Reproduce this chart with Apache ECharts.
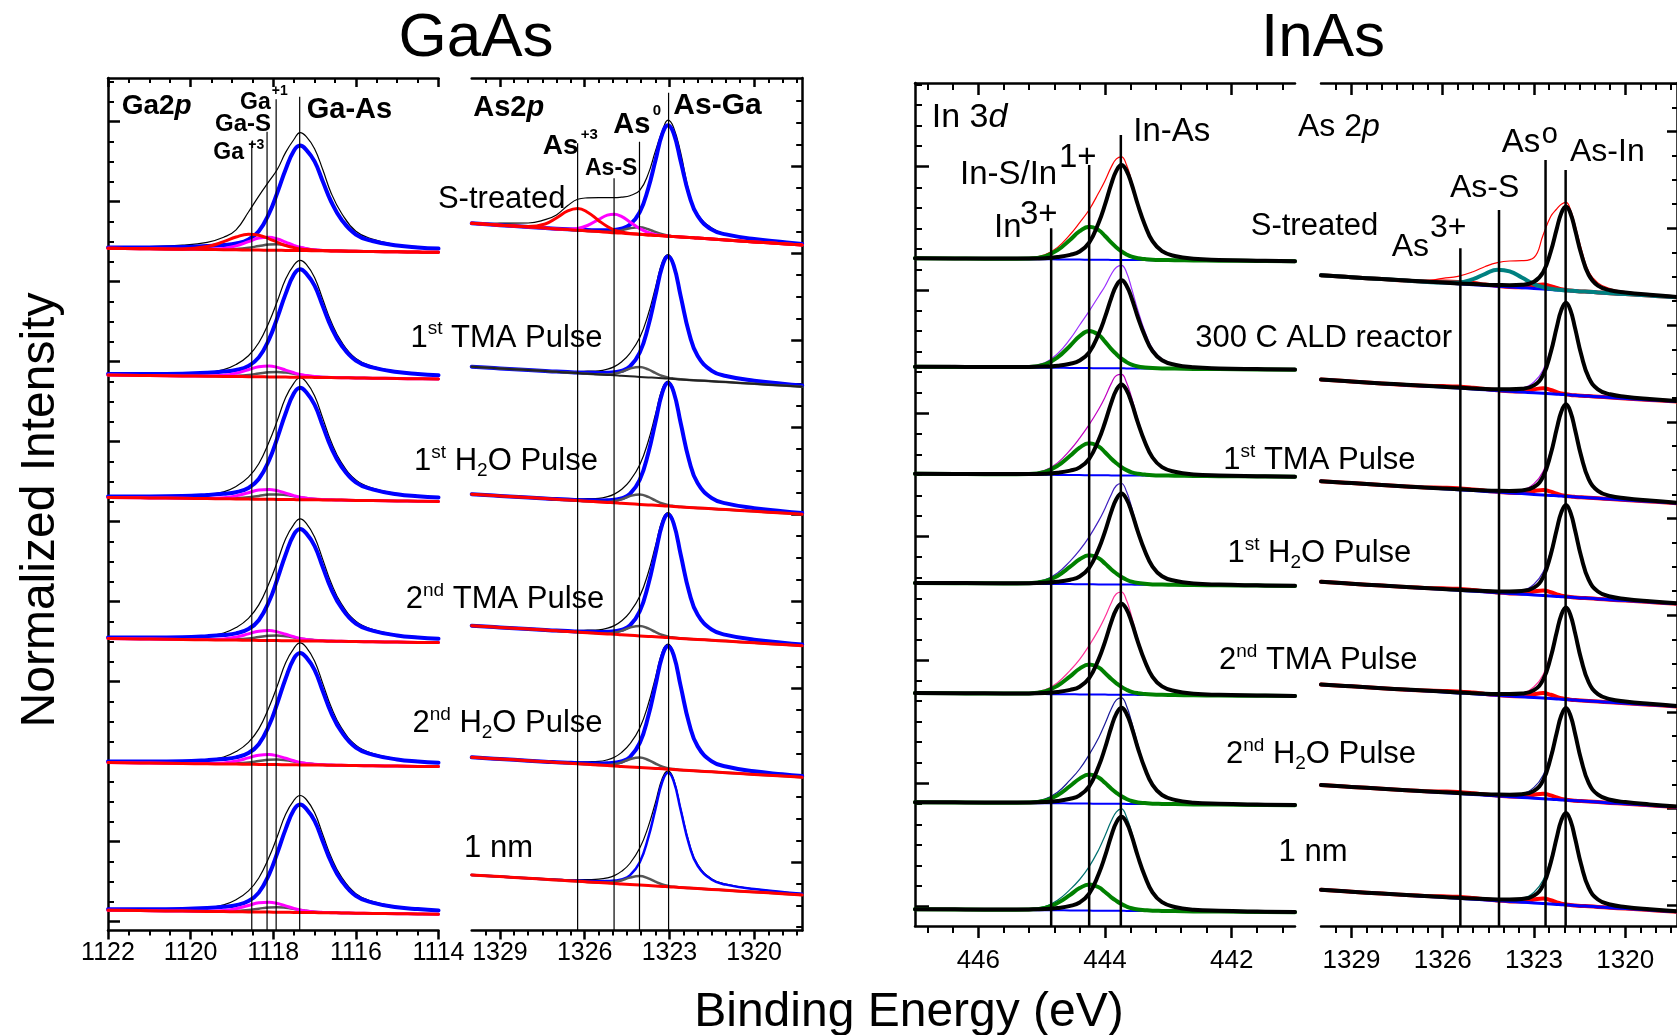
<!DOCTYPE html>
<html><head><meta charset="utf-8">
<script src="https://cdn.jsdelivr.net/npm/echarts@6/dist/echarts.min.js"></script>
<style>html,body{margin:0;padding:0;background:#fff}#c{width:1677px;height:1035px}</style>
</head><body><div id="c"></div>
<script>
const FONT = "'Liberation Sans', Arial, Helvetica, sans-serif";

// ================= GaAs : Ga 2p =================
const ga2pE = [1122,1121,1120.2,1119.6,1119.2,1118.9,1118.6,1118.35,1118.1,1117.9,1117.7,1117.5,1117.35,1117.2,1117.0,1116.8,1116.6,1116.35,1116.0,1115.6,1115.0,1114.5,1114];
const ga2pBg = [0,-0.05,-0.09,-0.12,-0.14,-0.15,-0.17,-0.18,-0.19,-0.2,-0.21,-0.22,-0.23,-0.23,-0.24,-0.25,-0.26,-0.27,-0.3,-0.32,-0.35,-0.38,-0.4];
const ga2pOffset = [68.22, 55.55, 43.31, 29.19, 16.79, 2.03];
const ga2pEnvA = [0.1,0.22,0.4,0.72,1.25,2.0,3.8,5.4,6.9,8.1,9.8,11.1,11.8,11.4,10.2,8.1,5.8,3.8,2.0,1.25,0.7,0.48,0.38];
const ga2pEnvB = [0.05,0.1,0.18,0.36,0.68,1.2,2.1,3.4,5.5,7.6,9.8,11.2,11.7,11.3,10.0,7.8,5.6,3.6,1.95,1.2,0.7,0.48,0.38];
const ga2pEnvC = [0.05,0.1,0.18,0.38,0.7,1.25,2.2,3.55,5.75,7.9,10.2,11.65,12.2,11.75,10.4,8.15,5.85,3.75,2.05,1.25,0.72,0.5,0.4];
const ga2pMainA = [0.09,0.14,0.21,0.34,0.47,0.63,1.05,1.89,3.68,5.78,8.09,9.98,10.5,10.08,8.93,6.93,4.94,3.15,1.68,1.05,0.63,0.47,0.37];
const ga2pMainB = [0.1,0.14,0.22,0.35,0.49,0.65,1.08,1.94,3.78,5.94,8.32,10.26,10.8,10.37,9.18,7.13,5.08,3.24,1.73,1.08,0.65,0.49,0.38];
const ga2pMainC = [0.1,0.15,0.22,0.36,0.5,0.67,1.12,2.02,3.92,6.16,8.62,10.64,11.2,10.75,9.52,7.39,5.26,3.36,1.79,1.12,0.67,0.5,0.39];
const ga2pGaSA = [0,0,0,0.03,0.13,0.39,0.83,1.2,1.29,1.13,0.83,0.52,0.33,0.2,0.09,0.04,0.02,0,0,0,0,0,0];
const ga2pGaSB = [0,0,0,0.02,0.11,0.33,0.7,1.01,1.09,0.96,0.7,0.44,0.28,0.17,0.08,0.03,0.02,0,0,0,0,0,0];
const ga2pGaSC = [0,0,0,0.02,0.1,0.3,0.64,0.92,0.99,0.87,0.64,0.4,0.25,0.15,0.07,0.03,0.015,0,0,0,0,0,0];
const ga2pGa1A = [0,0,0,0.01,0.02,0.08,0.22,0.4,0.56,0.6,0.54,0.41,0.3,0.2,0.1,0.05,0.02,0.01,0,0,0,0,0];
const ga2pGa1B = [0,0,0,0.01,0.02,0.07,0.18,0.33,0.47,0.5,0.45,0.34,0.25,0.17,0.08,0.04,0.02,0,0,0,0,0,0];
const ga2pGa3A = [0,0,0.03,0.29,0.8,1.28,1.58,1.49,1.14,0.8,0.48,0.29,0.16,0.1,0.05,0.02,0,0,0,0,0,0,0];
const ga2pRowEnv = [ga2pEnvA, ga2pEnvB, ga2pEnvC, ga2pEnvC, ga2pEnvC, ga2pEnvB];
const ga2pRowMain = [ga2pMainA, ga2pMainB, ga2pMainC, ga2pMainC, ga2pMainC, ga2pMainB];
const ga2pRowGaS = [ga2pGaSA, ga2pGaSB, ga2pGaSC, ga2pGaSC, ga2pGaSC, ga2pGaSC];
const ga2pRowGa1 = [ga2pGa1A, ga2pGa1B, ga2pGa1B, ga2pGa1B, ga2pGa1B, ga2pGa1B];
const ga2pLineE = [1118.52, 1118.15, 1117.93, 1117.36];
const ga2pLineTop = [78.88, 79.88, 83.12, 83.38];
const ga2pXMajor = [1114,1116,1118,1120,1122];
const ga2pXMinor = [1114.5,1115,1115.5,1116.5,1117,1117.5,1118.5,1119,1119.5,1120.5,1121,1121.5];
const ga2pYMajor = [0.88,8.88,16.88,24.88,32.88,40.88,48.88,56.88,64.88,72.88,80.88];

// ================= GaAs : As 2p =================
const as2pE = [1330,1329,1328,1327.4,1327,1326.6,1326.25,1325.9,1325.5,1325.2,1324.95,1324.7,1324.4,1324.05,1323.75,1323.5,1323.25,1323.05,1322.85,1322.6,1322.3,1322,1321.5,1321,1320,1319,1318.3];
const as2pOffset = [70.72, 56.38, 43.63, 30.48, 17.32, 5.56];
const as2pBgA = [0,-0.19,-0.37,-0.48,-0.56,-0.63,-0.7,-0.76,-0.83,-0.89,-0.94,-0.98,-1.04,-1.1,-1.16,-1.21,-1.25,-1.29,-1.33,-1.37,-1.43,-1.48,-1.58,-1.67,-1.86,-2.04,-2.17];
const as2pBgB = [0,-0.17,-0.34,-0.44,-0.51,-0.58,-0.64,-0.7,-0.77,-0.82,-0.86,-0.91,-0.96,-1.02,-1.07,-1.11,-1.15,-1.19,-1.22,-1.27,-1.32,-1.37,-1.45,-1.54,-1.71,-1.88,-2.0];
const as2pMainA = [0,0,0,0,0.02,0.03,0.06,0.09,0.13,0.2,0.28,0.44,0.89,2.22,4.66,7.44,10.21,11.1,10.32,7.55,4.22,2.22,0.94,0.56,0.28,0.17,0.11];
const as2pMainB = [0,0,0,0,0.02,0.04,0.06,0.1,0.15,0.22,0.31,0.49,0.98,2.44,5.12,8.17,11.22,12.2,11.35,8.3,4.64,2.44,1.04,0.61,0.31,0.18,0.12];
const as2pMainC = [0,0,0,0,0.02,0.04,0.06,0.1,0.15,0.22,0.31,0.49,0.98,2.46,5.17,8.24,11.32,12.3,11.44,8.36,4.67,2.46,1.05,0.62,0.31,0.18,0.12];
const as2pMainF = [0,0,0,0,0.02,0.03,0.06,0.09,0.14,0.21,0.29,0.46,0.91,2.28,4.79,7.64,10.49,11.4,10.6,7.75,4.33,2.28,0.97,0.57,0.29,0.17,0.11];
const as2pAs0A = [0,0,0,0,0,0,0,0,0.01,0.04,0.11,0.27,0.54,0.7,0.56,0.34,0.15,0.07,0.02,0,0,0,0,0,0,0,0];
const as2pAs0B = [0,0,0,0,0,0,0,0,0.01,0.05,0.16,0.39,0.77,1,0.8,0.49,0.22,0.1,0.04,0.01,0,0,0,0,0,0,0];
const as2pAs0F = [0,0,0,0,0,0,0,0,0.01,0.05,0.14,0.35,0.69,0.9,0.72,0.44,0.2,0.09,0.03,0.01,0,0,0,0,0,0,0];
const as2pAs3A = [0,0,0.04,0.41,1.09,1.87,2.18,1.87,1.09,0.57,0.26,0.11,0.03,0,0,0,0,0,0,0,0,0,0,0,0,0,0];
const as2pAsSA = [0,0,0,0,0,0.04,0.18,0.54,1.22,1.7,1.85,1.67,1.18,0.57,0.24,0.09,0.03,0.01,0,0,0,0,0,0,0,0,0];
const as2pEnvA = [0,0.2,0.4,0.85,1.4,2.4,3.1,3.3,3.4,3.45,3.5,3.6,3.8,4.4,6.1,8.4,10.5,11.6,10.9,8.4,4.5,2.4,1.1,0.6,0.25,0.1,0.05];
const as2pEnvB = [0,0,0.05,0.05,0.08,0.1,0.16,0.25,0.36,0.57,0.87,1.38,2.3,3.94,6.32,8.96,11.64,12.4,11.57,8.5,4.8,2.55,1.1,0.65,0.33,0.2,0.13];
const as2pEnvC = [0,0,0.05,0.05,0.08,0.1,0.16,0.25,0.36,0.57,0.87,1.38,2.3,3.96,6.37,9.03,11.74,12.5,11.66,8.56,4.83,2.57,1.1,0.66,0.33,0.2,0.13];
const as2pEnvF = [0,0,0.05,0.05,0.07,0.1,0.15,0.23,0.34,0.52,0.79,1.26,2.1,3.7,5.9,8.3,10.85,11.6,10.8,7.9,4.5,2.4,1.05,0.62,0.31,0.18,0.12];
const as2pRowBg = [as2pBgA, as2pBgB, as2pBgB, as2pBgB, as2pBgB, as2pBgB];
const as2pRowMain = [as2pMainA, as2pMainB, as2pMainC, as2pMainC, as2pMainC, as2pMainF];
const as2pRowAs0 = [as2pAs0A, as2pAs0B, as2pAs0B, as2pAs0B, as2pAs0B, as2pAs0F];
const as2pRowEnv = [as2pEnvA, as2pEnvB, as2pEnvC, as2pEnvC, as2pEnvC, as2pEnvF];
const as2pLineE = [1326.25, 1324.96, 1324.06, 1323.03];
const as2pLineTop = [78.72, 75.22, 78.88, 83.78];
const asXMajor = [1320,1323,1326,1329];
const asXMinor = [1318.5,1319,1319.5,1320.5,1321,1321.5,1322,1322.5,1323.5,1324,1324.5,1325,1325.5,1326.5,1327,1327.5,1328,1328.5,1329.5];
const as2pYMajor = [6.85,15.54,24.24,32.94,41.63,50.33,59.02,67.72,76.42];

// ================= InAs : In 3d =================
const in3dE = [447,446.2,445.6,445.2,444.95,444.75,444.55,444.4,444.25,444.1,444.0,443.9,443.82,443.74,443.66,443.58,443.48,443.37,443.25,443.1,442.9,442.6,442.2,441.6,441];
const in3dBg = [0,-0.04,-0.07,-0.09,-0.1,-0.11,-0.12,-0.13,-0.14,-0.15,-0.15,-0.16,-0.16,-0.16,-0.17,-0.17,-0.18,-0.18,-0.19,-0.19,-0.2,-0.22,-0.24,-0.27,-0.3];
const in3dOffset = [66.77, 55.93, 45.22, 34.31, 23.29, 12.38, 1.68];
const in3dMain1 = [0,0.02,0.04,0.07,0.11,0.23,0.46,0.81,1.71,3.71,5.51,7.6,8.93,9.5,8.93,7.6,5.51,3.52,1.9,0.9,0.43,0.17,0.08,0.03,0.01];
const in3dMain2 = [0,0.02,0.04,0.06,0.11,0.21,0.42,0.75,1.58,3.43,5.1,7.04,8.27,8.8,8.27,7.04,5.1,3.26,1.76,0.84,0.4,0.16,0.07,0.03,0.01];
const in3dMain3 = [0,0.02,0.04,0.06,0.11,0.22,0.44,0.77,1.64,3.55,5.28,7.28,8.55,9.1,8.55,7.28,5.28,3.37,1.82,0.86,0.41,0.16,0.07,0.03,0.01];
const in3dMain6 = [0,0.02,0.04,0.07,0.12,0.23,0.46,0.82,1.73,3.74,5.57,7.68,9.02,9.6,9.02,7.68,5.57,3.55,1.92,0.91,0.43,0.17,0.08,0.03,0.01];
const in3dMain7 = [0,0.02,0.04,0.07,0.11,0.23,0.45,0.8,1.69,3.67,5.45,7.52,8.84,9.4,8.84,7.52,5.45,3.48,1.88,0.89,0.42,0.17,0.08,0.03,0.01];
const in3dInS1 = [0,0.01,0.03,0.07,0.3,0.92,1.98,2.84,3.3,2.97,2.38,1.72,1.25,0.86,0.56,0.33,0.18,0.1,0.05,0.02,0.01,0,0,0,0];
const in3dInS2 = [0,0.01,0.03,0.07,0.33,1.04,2.22,3.18,3.7,3.33,2.66,1.92,1.41,0.96,0.63,0.37,0.2,0.11,0.06,0.02,0.01,0,0,0,0];
const in3dInS3 = [0,0.01,0.03,0.06,0.29,0.9,1.92,2.75,3.2,2.88,2.3,1.66,1.22,0.83,0.54,0.32,0.18,0.1,0.05,0.02,0.01,0,0,0,0];
const in3dInS4 = [0,0.01,0.02,0.06,0.26,0.81,1.74,2.49,2.9,2.61,2.09,1.51,1.1,0.75,0.49,0.29,0.16,0.09,0.04,0.02,0.01,0,0,0,0];
const in3dInS5 = [0,0.01,0.02,0.06,0.27,0.84,1.8,2.58,3.0,2.7,2.16,1.56,1.14,0.78,0.51,0.3,0.17,0.09,0.05,0.02,0.01,0,0,0,0];
const in3dInS7 = [0,0.01,0.02,0.05,0.23,0.73,1.56,2.24,2.6,2.34,1.87,1.35,0.99,0.68,0.44,0.26,0.14,0.08,0.04,0.02,0.01,0,0,0,0];
const in3dEnv1 = [0,0.03,0.07,0.15,0.45,1.2,2.5,3.7,5.0,6.7,7.9,9.3,10.1,10.3,9.5,7.9,5.7,3.6,1.95,0.92,0.44,0.17,0.08,0.03,0.01];
const in3dEnv2 = [0,0.03,0.08,0.15,0.5,1.4,2.9,4.3,5.7,7.2,8.2,9.4,10.1,10.3,9.6,8.0,5.8,3.7,2.0,0.95,0.45,0.18,0.08,0.03,0.01];
const in3dEnv3 = [0,0.03,0.07,0.13,0.45,1.2,2.5,3.7,5.05,6.6,7.8,9.2,10.0,10.1,9.3,7.8,5.6,3.55,1.92,0.9,0.43,0.17,0.08,0.03,0.01];
const in3dEnv4 = [0,0.03,0.06,0.12,0.4,1.1,2.3,3.4,4.75,6.35,7.6,9.0,9.9,10.1,9.3,7.75,5.55,3.52,1.9,0.9,0.43,0.17,0.08,0.03,0.01];
const in3dEnv5 = [0,0.03,0.06,0.12,0.42,1.15,2.4,3.5,4.9,6.5,7.75,9.2,10.1,10.25,9.45,7.85,5.6,3.55,1.92,0.9,0.43,0.17,0.08,0.03,0.01];
const in3dEnv6 = [0,0.03,0.06,0.13,0.42,1.1,2.35,3.45,4.9,6.6,8.0,9.5,10.4,10.6,9.8,8.2,5.9,3.7,2.0,0.95,0.45,0.18,0.08,0.03,0.01];
const in3dEnv7 = [0,0.03,0.06,0.12,0.36,1.0,2.1,3.1,4.4,6.1,7.5,9.0,9.9,10.2,9.4,7.9,5.65,3.6,1.95,0.92,0.44,0.17,0.08,0.03,0.01];
const in3dRowMain = [in3dMain1, in3dMain2, in3dMain3, in3dMain3, in3dMain3, in3dMain6, in3dMain7];
const in3dRowInS = [in3dInS1, in3dInS2, in3dInS3, in3dInS4, in3dInS5, in3dInS4, in3dInS7];
const in3dRowEnv = [in3dEnv1, in3dEnv2, in3dEnv3, in3dEnv4, in3dEnv5, in3dEnv6, in3dEnv7];
const inAsEnvColor = ['#ff0000', '#9b30ff', '#c000c0', '#4020c0', '#ff3399', '#1a1a99', '#007070'];
const in3dLineE = [444.85, 444.25, 443.75];
const in3dLineTop = [69.77, 76.1, 79.1];
const in3dXMajor = [442,444,446];
const in3dXMinor = [441.2,441.6,442.4,442.8,443.2,443.6,444.4,444.8,445.2,445.6,446.4,446.8];
const in3dYMajor = [1.95,14.28,26.61,38.94,51.27,63.6,75.93];

// ================= InAs : As 2p =================
const as4E = [1330,1329,1328,1327.2,1326.6,1326,1325.5,1325,1324.6,1324.2,1323.8,1323.4,1323.0,1322.7,1322.45,1322.25,1322.1,1321.95,1321.8,1321.65,1321.45,1321.2,1320.9,1320.5,1320,1319.2,1318.3];
const as4Bg = [0,-0.19,-0.38,-0.53,-0.64,-0.75,-0.85,-0.94,-1.02,-1.09,-1.17,-1.24,-1.32,-1.37,-1.42,-1.46,-1.49,-1.51,-1.54,-1.57,-1.61,-1.65,-1.71,-1.79,-1.88,-2.03,-2.2];
const as4Offset = [65.07, 54.64, 44.48, 34.42, 24.16, 14.1, 3.62];
const as4MainA = [0,0,0,0.01,0.02,0.03,0.04,0.06,0.08,0.12,0.18,0.29,0.67,1.68,3.78,6.13,7.73,8.4,7.73,6.13,3.78,1.68,0.67,0.29,0.16,0.08,0.04];
const as4MainB = [0,0,0,0.01,0.02,0.03,0.05,0.06,0.09,0.13,0.2,0.32,0.74,1.84,4.14,6.72,8.46,9.2,8.46,6.72,4.14,1.84,0.74,0.32,0.17,0.09,0.05];
const as4AsSA = [0,0,0,0,0,0.02,0.13,0.56,1.17,1.65,1.56,1.02,0.44,0.18,0.07,0.03,0.02,0,0,0,0,0,0,0,0,0,0];
const as4RedA = [0,0,0,0,0.03,0.13,0.19,0.16,0.09,0.03,0.01,0.05,0.31,0.45,0.34,0.19,0.09,0.04,0.01,0,0,0,0,0,0,0,0];
const as4RedB = [0,0,0,0,0.02,0.1,0.15,0.12,0.07,0.03,0.01,0.06,0.34,0.5,0.38,0.21,0.1,0.04,0.01,0,0,0,0,0,0,0,0];
const as4EnvA = [0,0,0.02,0.05,0.08,0.45,0.75,1.3,1.9,2.35,2.6,2.7,3.1,5.4,7.3,8.1,8.6,8.8,8.1,6.6,4.3,2.0,0.95,0.45,0.25,0.12,0.06];
const as4EnvB = [0,0,0,0.01,0.04,0.13,0.2,0.18,0.16,0.16,0.21,0.38,1.08,2.34,4.52,6.93,8.56,9.24,8.47,6.72,4.14,1.84,0.74,0.32,0.17,0.09,0.05];
const as4RowMain = [as4MainA, as4MainB, as4MainB, as4MainB, as4MainB, as4MainB, as4MainB];
const as4RowRed = [as4RedA, as4RedB, as4RedB, as4RedB, as4RedB, as4RedB, as4RedB];
const as4RowEnv = [as4EnvA, as4EnvB, as4EnvB, as4EnvB, as4EnvB, as4EnvB, as4EnvB];
const as4LineE = [1325.42, 1324.15, 1322.62, 1321.96];
const as4LineTop = [67.77, 71.6, 76.6, 75.6];
const as4YMajor = [2.07,11.74,21.41,31.08,40.75,50.42,60.09,69.76,79.43];

// ================= build =================
const grids = [
  {left:108, top:78, width:330.5, height:852.5},
  {left:471.7, top:78, width:330.5, height:852.5},
  {left:915, top:83, width:380, height:843},
  {left:1321, top:83, width:358, height:843}
];
const yMax = [85.25, 85.25, 84.3, 84.3];
function minorsFrom(majors, step, n, max) {
  const out = [];
  const first = majors[0];
  for (let v = first - step; v > 0; v -= step) out.push(+v.toFixed(3));
  majors.forEach(m => { for (let k = 1; k <= n; k++) { const v = m + k * step; if (v < max) out.push(+v.toFixed(3)); } });
  return out;
}
const xAxis = [], yAxis = [];
function addX(p, min, max, major, minor, fs, margin, tl) {
  const base = {gridIndex:p, type:'value', min, max, inverse:true, splitLine:{show:false}, axisPointer:{show:false}};
  const ls = {color:'#000', width:2.5};
  xAxis.push({...base, position:'bottom', axisLine:{show:true, onZero:false, lineStyle:ls},
    axisTick:{show:true, inside:false, length:tl, customValues:major, lineStyle:ls},
    axisLabel:{show:true, customValues:major, color:'#000', fontSize:fs, fontFamily:FONT, margin, formatter:v=>String(v)}});
  xAxis.push({...base, position:'bottom', axisLine:{show:false, onZero:false}, axisTick:{show:true, inside:false, length:Math.round(tl*0.55), customValues:minor, lineStyle:{color:'#000', width:2}}, axisLabel:{show:false}});
  xAxis.push({...base, position:'top', axisLine:{show:true, onZero:false, lineStyle:ls}, axisTick:{show:true, inside:true, length:tl, customValues:major, lineStyle:ls}, axisLabel:{show:false}});
  xAxis.push({...base, position:'top', axisLine:{show:false, onZero:false}, axisTick:{show:true, inside:true, length:Math.round(tl*0.55), customValues:minor, lineStyle:{color:'#000', width:2}}, axisLabel:{show:false}});
}
function addY(p, side, major, minor, ml, nl) {
  const base = {gridIndex:p, type:'value', min:0, max:yMax[p], position:side, splitLine:{show:false}, axisLabel:{show:false}, axisPointer:{show:false}};
  yAxis.push({...base, axisLine:{show:true, onZero:false, lineStyle:{color:'#000', width:2.5}}, axisTick:{show:true, inside:true, length:ml, customValues:major, lineStyle:{color:'#000', width:2.5}}});
  yAxis.push({...base, axisLine:{show:false, onZero:false}, axisTick:{show:true, inside:true, length:nl, customValues:minor, lineStyle:{color:'#000', width:2}}});
}
addX(0, 1114, 1122, ga2pXMajor, ga2pXMinor, 25, 10, 9);
addX(1, 1318.3, 1330, asXMajor, asXMinor, 25, 10, 9);
addX(2, 441, 447, in3dXMajor, in3dXMinor, 26, 22, 12);
addX(3, 1318.3, 1330, asXMajor, asXMinor, 26, 22, 12);
addY(0, 'left', ga2pYMajor, minorsFrom(ga2pYMajor, 2, 3, 85.25), 12, 6);
addY(1, 'right', as2pYMajor, minorsFrom(as2pYMajor, 2.174, 3, 85.25), 11, 6);
addY(2, 'left', in3dYMajor, minorsFrom(in3dYMajor, 2.055, 5, 84.3), 14, 7);
addY(3, 'right', as4YMajor, minorsFrom(as4YMajor, 2.4175, 3, 84.3), 10, 5);

const series = [];
function curve(p, E, off, bg, vals, color, width, z) {
  series.push({type:'line', xAxisIndex:4*p, yAxisIndex:2*p,
    data:E.map((e,i)=>[e, off + bg[i] + (vals ? vals[i] : 0)]),
    symbol:'none', showSymbol:false, smooth:0.45,
    lineStyle:{color, width, join:'round', cap:'round'}, z, silent:true, animation:false});
}
function vlines(p, Es, tops, width) {
  Es.forEach((e,i)=>series.push({type:'line', xAxisIndex:4*p, yAxisIndex:2*p, data:[[e,0],[e,tops[i]]],
    symbol:'none', lineStyle:{color:'#000', width}, z:30, silent:true, animation:false}));
}
// Ga 2p
ga2pOffset.forEach((off, r) => {
  curve(0, ga2pE, off, ga2pBg, ga2pRowEnv[r], '#000000', 1.2, 2);
  curve(0, ga2pE, off, ga2pBg, ga2pRowMain[r], '#0000ff', 4, 3);
  curve(0, ga2pE, off, ga2pBg, ga2pRowGa1[r], '#555555', 2.5, 4);
  curve(0, ga2pE, off, ga2pBg, ga2pRowGaS[r], '#ff00ff', 3, 5);
  curve(0, ga2pE, off, ga2pBg, null, '#ff0000', 3, 6);
  if (r === 0) curve(0, ga2pE, off, ga2pBg, ga2pGa3A, '#ff0000', 3, 6);
});
vlines(0, ga2pLineE, ga2pLineTop, 1.2);
// As 2p (GaAs)
as2pOffset.forEach((off, r) => {
  const bg = as2pRowBg[r];
  curve(1, as2pE, off, bg, as2pRowEnv[r], '#000000', 1.2, 2);
  curve(1, as2pE, off, bg, as2pRowMain[r], '#0000ff', r === 5 ? 2.5 : 4, 3);
  curve(1, as2pE, off, bg, as2pRowAs0[r], '#555555', 2.5, 4);
  if (r === 0) {
    curve(1, as2pE, off, bg, as2pAsSA, '#ff00ff', 3, 5);
    curve(1, as2pE, off, bg, as2pAs3A, '#ff0000', 3, 6);
  }
  curve(1, as2pE, off, bg, null, r === 1 ? '#222222' : '#ff0000', r === 1 ? 2 : 3, 6);
});
vlines(1, as2pLineE, as2pLineTop, 1.2);
// In 3d
in3dOffset.forEach((off, r) => {
  curve(2, in3dE, off, in3dBg, in3dRowEnv[r], inAsEnvColor[r], 1.2, 2);
  curve(2, in3dE, off, in3dBg, null, '#0000ff', 2, 3);
  curve(2, in3dE, off, in3dBg, in3dRowInS[r], '#008000', 4, 4);
  curve(2, in3dE, off, in3dBg, in3dRowMain[r], '#000000', 4, 5);
});
vlines(2, in3dLineE, in3dLineTop, 2.5);
// As 2p (InAs)
as4Offset.forEach((off, r) => {
  curve(3, as4E, off, as4Bg, as4RowEnv[r], inAsEnvColor[r], 1.2, 2);
  curve(3, as4E, off, as4Bg, as4RowRed[r], '#ff0000', 4, 3);
  curve(3, as4E, off, as4Bg, null, '#0000ff', 3, 4);
  if (r === 0) curve(3, as4E, off, as4Bg, as4AsSA, '#008080', 4, 5);
  curve(3, as4E, off, as4Bg, as4RowMain[r], '#000000', 4, 6);
});
vlines(3, as4LineE, as4LineTop, 2.5);

// ================= text =================
const graphic = [];
const DY = 3;
function T(x, base, text, size, o) {
  o = o || {};
  graphic.push({type:'text', x, y: base + DY - 0.35*size, z:100, silent:true,
    style:{text, fontSize:size, fontFamily:FONT, fontWeight:o.bold ? 'bold' : 'normal', fontStyle:o.italic ? 'italic' : 'normal',
      fill:'#000', align:o.align || 'left', verticalAlign:'middle'}});
}
function R(x, base, text, size, o) {
  o = o || {};
  const lh = size + 6, sub = Math.round(size * 0.62);
  const w = o.bold ? 'bold' : 'normal';
  graphic.push({type:'text', x, y: base + DY - lh/2 - 0.35*size, z:100, silent:true,
    style:{text, fill:'#000', align:o.align || 'left', verticalAlign:'top',
      rich:{a:{fontSize:size, lineHeight:lh, fontFamily:FONT, fontWeight:w, fill:'#000'},
            i:{fontSize:size, lineHeight:lh, fontFamily:FONT, fontWeight:w, fontStyle:'italic', fill:'#000'},
            s:{fontSize:sub, lineHeight:sub, fontFamily:FONT, fontWeight:w, verticalAlign:'top', fill:'#000'},
            b:{fontSize:sub, lineHeight:sub, fontFamily:FONT, fontWeight:w, verticalAlign:'bottom', fill:'#000'}}}});
}
T(476, 58, 'GaAs', 62, {align:'center'});
T(1323, 58, 'InAs', 62, {align:'center'});
graphic.push({type:'text', x:41, y:510, rotation:Math.PI/2, z:100, silent:true,
  style:{text:'Normalized Intensity', fontSize:48, fontFamily:FONT, fill:'#000', align:'center', verticalAlign:'middle'}});
T(909, 1027, 'Binding Energy (eV)', 48, {align:'center'});
// Ga 2p panel
R(121.7, 113, '{a|Ga2}{i|p}', 28, {bold:true});
T(306.7, 116.7, 'Ga-As', 29, {bold:true});
T(240, 107.3, 'Ga', 23, {bold:true});
T(271.7, 93.3, '+1', 14, {bold:true});
T(215, 129.3, 'Ga-S', 24, {bold:true});
T(213.3, 157.3, 'Ga', 23, {bold:true});
T(248.3, 146.7, '+3', 14, {bold:true});
// As 2p GaAs panel
R(473.3, 115, '{a|As2}{i|p}', 29, {bold:true});
T(673.3, 113.3, 'As-Ga', 30, {bold:true});
T(613.3, 131.7, 'As', 29, {bold:true});
T(652.7, 113, '0', 15, {bold:true});
T(542.7, 153.3, 'As', 28, {bold:true});
T(580.7, 136.7, '+3', 15, {bold:true});
T(585, 174, 'As-S', 23, {bold:true});
// GaAs row labels
T(501.7, 207.5, 'S-treated', 31, {align:'center'});
R(506.5, 346, '{a|1}{s|st}{a| TMA Pulse}', 31, {align:'center'});
R(506, 469.6, '{a|1}{s|st}{a| H}{b|2}{a|O Pulse}', 31, {align:'center'});
R(505, 607.5, '{a|2}{s|nd}{a| TMA Pulse}', 31, {align:'center'});
R(507.5, 731.6, '{a|2}{s|nd}{a| H}{b|2}{a|O Pulse}', 31, {align:'center'});
T(498.5, 856.8, '1 nm', 31, {align:'center'});
// In 3d panel
R(931.7, 126.7, '{a|In 3}{i|d}', 34);
T(1133.3, 140.7, 'In-As', 33);
T(960, 183.3, 'In-S/In', 33);
T(1059, 166.7, '1+', 33);
T(994, 236.7, 'In', 33);
T(1020, 223, '3+', 33);
// As 2p InAs panel
R(1298, 135, '{a|As 2}{i|p}', 32);
T(1570, 160.7, 'As-In', 32);
T(1501.7, 151.7, 'As', 33);
T(1541.7, 141.7, 'o', 29);
T(1450, 196.7, 'As-S', 32);
T(1391.7, 255, 'As', 32);
T(1430, 236.7, '3+', 32);
// InAs row labels
T(1314.5, 234, 'S-treated', 31, {align:'center'});
T(1323.6, 346, '300 C ALD reactor', 31, {align:'center'});
R(1319.4, 468.5, '{a|1}{s|st}{a| TMA Pulse}', 31, {align:'center'});
R(1319.4, 561.5, '{a|1}{s|st}{a| H}{b|2}{a|O Pulse}', 31, {align:'center'});
R(1318.2, 668.5, '{a|2}{s|nd}{a| TMA Pulse}', 31, {align:'center'});
R(1321, 762.6, '{a|2}{s|nd}{a| H}{b|2}{a|O Pulse}', 31, {align:'center'});
T(1313, 860, '1 nm', 31, {align:'center'});

const chart = echarts.init(document.getElementById('c'), null, {renderer:'canvas'});
chart.setOption({animation:false, backgroundColor:'#fff', grid:grids, xAxis, yAxis, series, graphic});
</script></body></html>
